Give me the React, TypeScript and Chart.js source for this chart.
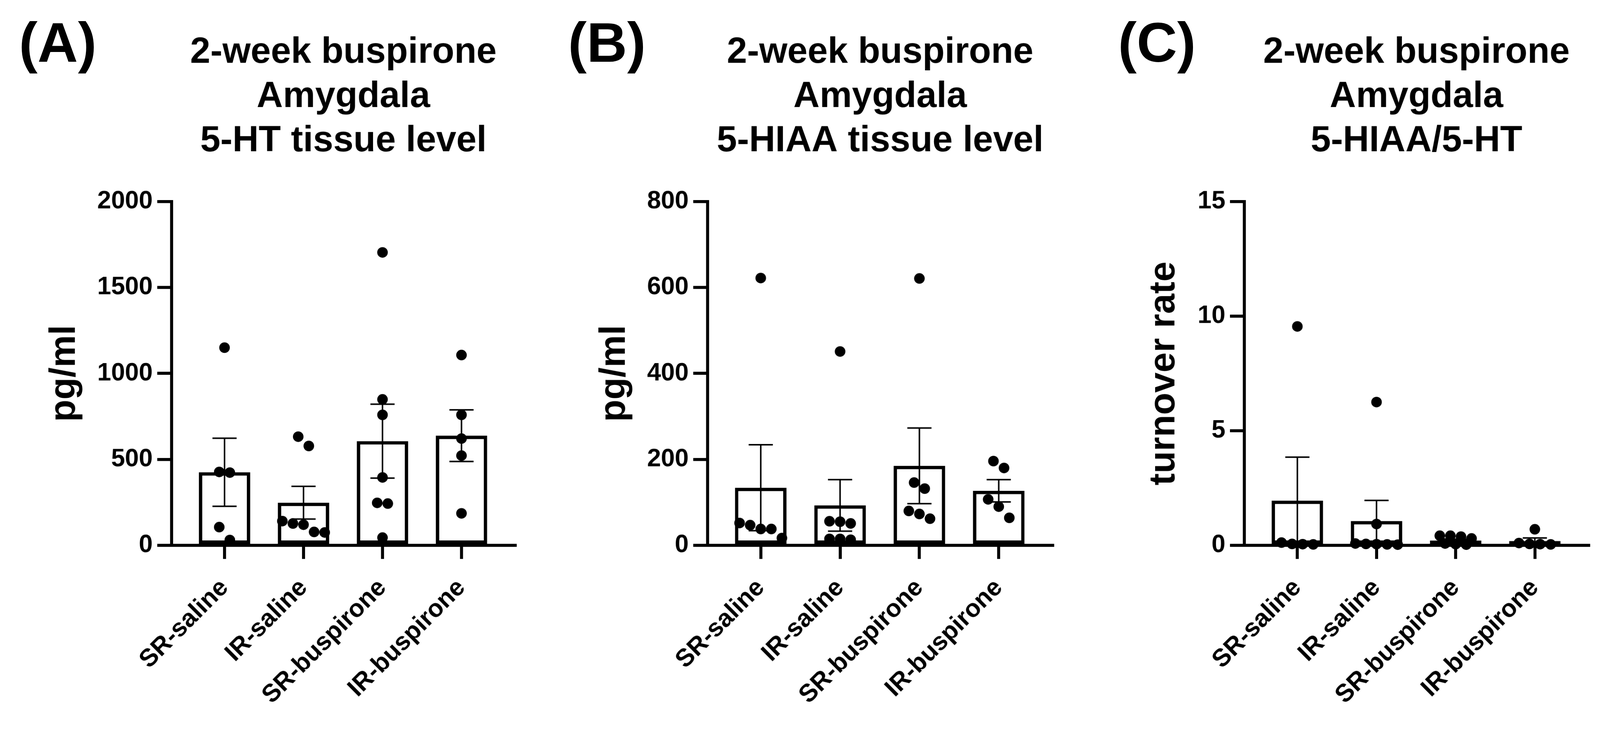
import React, { useEffect, useRef, useState } from 'react';
import { Chart, registerables } from 'chart.js';

Chart.register(...registerables);

const FONT = '"Liberation Sans", Arial, Helvetica, sans-serif';
const PAGE_W = 4233;
const PAGE_H = 1896;

const categories = ['SR-saline', 'IR-saline', 'SR-buspirone', 'IR-buspirone'];

// Panel A: 5-HT tissue level
const titleA = ['2-week buspirone', 'Amygdala', '5-HT tissue level'];
const yTitleA = 'pg/ml';
const yTicksA = [0, 500, 1000, 1500, 2000];
const meansA = [425, 248, 606, 638];
const semA = [198, 95, 215, 150];
const pointsA = [
  [1150, 427, 423, 106, 31],
  [632, 578, 141, 127, 120, 78, 75],
  [1704, 849, 759, 395, 247, 243, 45],
  [1107, 759, 621, 522, 186],
];

// Panel B: 5-HIAA tissue level
const titleB = ['2-week buspirone', 'Amygdala', '5-HIAA tissue level'];
const yTitleB = 'pg/ml';
const yTicksB = [0, 200, 400, 600, 800];
const meansB = [134, 93, 185, 127];
const semB = [100, 60, 88, 26];
const pointsB = [
  [622, 52, 47, 38, 38, 17],
  [451, 56, 55, 51, 15, 15, 13],
  [621, 146, 132, 80, 73, 62],
  [196, 180, 107, 90, 64],
];

// Panel C: 5-HIAA/5-HT
const titleC = ['2-week buspirone', 'Amygdala', '5-HIAA/5-HT'];
const yTitleC = 'turnover rate';
const yTicksC = [0, 5, 10, 15];
const meansC = [1.95, 1.06, 0.21, 0.19];
const semC = [1.9, 0.9, 0.06, 0.13];
const pointsC = [
  [9.55, 0.12, 0.06, 0.05, 0.04],
  [6.25, 0.93, 0.08, 0.06, 0.05, 0.04, 0.03],
  [0.42, 0.42, 0.38, 0.3, 0.08, 0.05, 0.03],
  [0.7, 0.1, 0.06, 0.05, 0.04],
];

type PanelProps = {
  left: number;
  width: number;
  plotLeft: number;
  padRight: number;
  yTitlePad: number;
  title: string[];
  yTitle: string;
  yTicks: number[];
  means: number[];
  sems: number[];
  points: number[][];
};

function Panel(p: PanelProps) {
  const ref = useRef<HTMLCanvasElement | null>(null);

  useEffect(() => {
    const canvas = ref.current;
    if (!canvas) return;
    const R = 14;
    const plotBottom = 1442;

    const errorBars = {
      id: 'errorBars',
      afterDatasetDraw(chart: any, args: any) {
        if (args.index !== 0) return;
        const ctx = chart.ctx;
        const xs = chart.scales.x;
        const ys = chart.scales.y;
        ctx.save();
        ctx.strokeStyle = '#000';
        ctx.lineWidth = 4;
        ctx.lineCap = 'butt';
        p.means.forEach((m, i) => {
          const x = xs.getPixelForValue(i);
          const top = ys.getPixelForValue(m + p.sems[i]);
          const bot = ys.getPixelForValue(Math.max(0, m - p.sems[i]));
          const half = 32;
          ctx.beginPath();
          ctx.moveTo(x, top);
          ctx.lineTo(x, bot);
          ctx.moveTo(x - half, top);
          ctx.lineTo(x + half, top);
          ctx.moveTo(x - half, bot);
          ctx.lineTo(x + half, bot);
          ctx.stroke();
        });
        ctx.restore();
      },
    };

    const yMax = p.yTicks[p.yTicks.length - 1];
    const chart = new Chart(canvas, {
      type: 'bar',
      data: {
        datasets: [
          {
            type: 'bar',
            data: p.means.map((m, i) => ({ x: i, y: m })),
            backgroundColor: '#ffffff',
            borderColor: '#000000',
            borderWidth: 9,
            borderSkipped: false,
            barPercentage: 0.65,
            categoryPercentage: 1,
            order: 2,
          } as any,
          {
            type: 'scatter',
            data: p.points.flatMap((g, i) => g.map((v) => ({ x: i, y: v }))),
            pointRadius: R,
            pointHoverRadius: R,
            pointBackgroundColor: '#000000',
            pointBorderColor: '#000000',
            pointBorderWidth: 0,
            clip: false,
            order: 1,
          } as any,
        ],
      },
      options: {
        responsive: false,
        animation: false,
        events: [],
        layout: { padding: { left: 0, right: p.padRight, top: 0, bottom: 0 } },
        plugins: {
          legend: { display: false },
          tooltip: { enabled: false },
          title: {
            display: true,
            text: p.title,
            color: '#000',
            fullSize: false,
            font: { family: FONT, size: 96, weight: 'bold', lineHeight: 1.22 },
            padding: { top: 80.5, bottom: 101 },
          },
        },
        scales: {
          x: {
            type: 'linear',
            min: -0.67,
            max: 3.68,
            offset: false,
            afterBuildTicks: (ax: any) => {
              ax.ticks = categories.map((_, i) => ({ value: i }));
            },
            afterFit: (ax: any) => {
              ax.height = PAGE_H - plotBottom;
            },
            grid: {
              display: true,
              drawOnChartArea: false,
              drawTicks: true,
              tickLength: 36,
              lineWidth: 8,
              color: '#000',
              offset: false,
            },
            border: { display: true, color: '#000', width: 8 },
            ticks: {
              autoSkip: false,
              minRotation: 45,
              maxRotation: 45,
              padding: 38,
              color: '#000',
              font: { family: FONT, size: 66, weight: 'bold' },
              callback: (v: any) => categories[v as number] ?? '',
            },
          },
          y: {
            type: 'linear',
            min: 0,
            max: yMax,
            afterBuildTicks: (ax: any) => {
              ax.ticks = p.yTicks.map((v) => ({ value: v }));
            },
            afterFit: (ax: any) => {
              ax.width = p.plotLeft;
            },
            grid: {
              display: true,
              drawOnChartArea: false,
              drawTicks: true,
              tickLength: 38,
              lineWidth: 8,
              color: '#000',
            },
            border: { display: true, color: '#000', width: 8 },
            ticks: {
              padding: 12,
              color: '#000',
              font: { family: FONT, size: 66, weight: 'bold' },
              callback: (v: any) => String(v),
            },
            title: {
              display: true,
              text: p.yTitle,
              color: '#000',
              font: { family: FONT, size: 96, weight: 'bold' },
              padding: { top: p.yTitlePad, bottom: 0 },
            },
          },
        },
      } as any,
      plugins: [errorBars],
    });

    // Beeswarm-style spreading of overlapping points, computed through the chart's scales
    const xs: any = chart.scales.x;
    const ys: any = chart.scales.y;
    const unit = xs.getPixelForValue(1) - xs.getPixelForValue(0);
    const D = 2 * R;
    const T = 1.25 * D;
    const MAXROW = 5;
    const spread: { x: number; y: number }[] = [];
    p.points.forEach((g, gi) => {
      const sorted = [...g].sort((a, b) => b - a);
      const py = sorted.map((v) => ys.getPixelForValue(v));
      const clusters: number[][] = [];
      let cur = [0];
      for (let k = 1; k < sorted.length; k++) {
        if (py[k] - py[k - 1] < T) cur.push(k);
        else {
          clusters.push(cur);
          cur = [k];
        }
      }
      clusters.push(cur);
      clusters.forEach((c) => {
        const rows =
          c.length > MAXROW ? [c.slice(0, Math.ceil(c.length / 2)), c.slice(Math.ceil(c.length / 2))] : [c];
        rows.forEach((r) =>
          r.forEach((k, j) => {
            spread.push({ x: gi + ((j - (r.length - 1) / 2) * D) / unit, y: sorted[k] });
          })
        );
      });
    });
    (chart.data.datasets[1] as any).data = spread;
    chart.update('none');

    return () => chart.destroy();
  }, []);

  return (
    <canvas
      ref={ref}
      width={p.width}
      height={PAGE_H}
      style={{ position: 'absolute', left: p.left, top: 0, width: p.width, height: PAGE_H }}
    />
  );
}

const labelStyle = (left: number): React.CSSProperties => ({
  position: 'absolute',
  left,
  top: 38,
  fontFamily: FONT,
  fontWeight: 'bold',
  fontSize: 148,
  lineHeight: '148px',
  color: '#000',
  whiteSpace: 'nowrap',
});

export default function App() {
  const [scale, setScale] = useState(() =>
    typeof window !== 'undefined' ? Math.min(window.innerWidth / PAGE_W, window.innerHeight / PAGE_H) : 1
  );
  useEffect(() => {
    const onResize = () => setScale(Math.min(window.innerWidth / PAGE_W, window.innerHeight / PAGE_H));
    window.addEventListener('resize', onResize);
    return () => window.removeEventListener('resize', onResize);
  }, []);

  return (
    <div style={{ position: 'fixed', left: 0, top: 0, width: '100vw', height: '100vh', background: '#fff', overflow: 'hidden' }}>
      <div
        style={{
          position: 'absolute',
          left: 0,
          top: 0,
          width: PAGE_W,
          height: PAGE_H,
          transform: `scale(${scale})`,
          transformOrigin: '0 0',
          background: '#fff',
        }}
      >
        <Panel left={0} width={1450} plotLeft={454} padRight={87} yTitlePad={114} title={titleA} yTitle={yTitleA} yTicks={yTicksA} means={meansA} sems={semA} points={pointsA} />
        <Panel left={1450} width={1420} plotLeft={422} padRight={85} yTitlePad={119} title={titleB} yTitle={yTitleB} yTicks={yTicksB} means={meansB} sems={semB} points={pointsB} />
        <Panel left={2870} width={1363} plotLeft={422} padRight={30} yTitlePad={153} title={titleC} yTitle={yTitleC} yTicks={yTicksC} means={meansC} sems={semC} points={pointsC} />
        <div style={labelStyle(50)}>(A)</div>
        <div style={labelStyle(1503)}>(B)</div>
        <div style={labelStyle(2958)}>(C)</div>
      </div>
    </div>
  );
}
